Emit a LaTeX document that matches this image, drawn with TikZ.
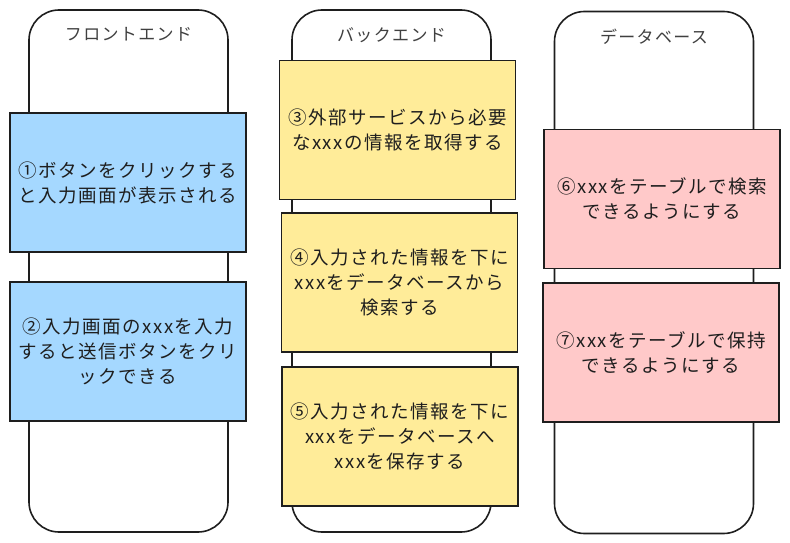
\documentclass[tikz,border=0pt]{standalone}
\usepackage{fontspec}
\newfontfamily\jpfont[LetterSpace=8]{Noto Sans CJK JP}
\usetikzlibrary{positioning}
\definecolor{inkdark}{HTML}{1E1E1E}
\definecolor{frontblue}{HTML}{A5D8FF}
\definecolor{backyellow}{HTML}{FFEC99}
\definecolor{dbpink}{HTML}{FFC9C9}
\tikzset{
  lane/.style={draw=inkdark,line width=1.6pt,rounded corners=30pt,fill=white,
    minimum width=199pt,minimum height=522pt,inner sep=0pt},
  lanetitle/.style={font=\jpfont\fontsize{17}{20}\selectfont,text=black!75,inner sep=0pt},
  taskbox/.style={draw=inkdark,line width=1.2pt,minimum width=236pt,minimum height=139pt,
    align=center,text=inkdark,font=\jpfont\fontsize{18.5}{25}\selectfont,inner sep=0pt},
  frontbox/.style={taskbox,fill=frontblue},
  backbox/.style={taskbox,fill=backyellow},
  dbbox/.style={taskbox,fill=dbpink}
}
\begin{document}
\begin{tikzpicture}[x=1pt,y=-1pt]
\useasboundingbox (0,0) rectangle (790,543);
% lanes
\node[lane] (front) at (128.5,271) {};
\node[lane] (back) at (391.5,271) {};
\node[lane] (db) at (654,272.5) {};
\node[lanetitle,below=18pt of front.north] (fronttitle) {フロントエンド};
\node[lanetitle,below=18pt of back.north] (backtitle) {バックエンド};
\node[lanetitle,below=18pt of db.north] (dbtitle) {データベース};
% tasks
\node[frontbox] (step1) at (128,182.5) {①ボタンをクリックする\\と入力画面が表示される};
\node[frontbox] (step2) at (128,351.5) {②入力画面のxxxを入力\\すると送信ボタンをクリ\\ックできる};
\node[backbox] (step3) at (397.5,130) {③外部サービスから必要\\なxxxの情報を取得する};
\node[backbox] (step4) at (399.5,282.5) {④入力された情報を下に\\xxxをデータベースから\\検索する};
\node[backbox] (step5) at (400,436.5) {⑤入力された情報を下に\\xxxをデータベースへ\\xxxを保存する};
\node[dbbox] (step6) at (662,199) {⑥xxxをテーブルで検索\\できるようにする};
\node[dbbox] (step7) at (661,352.5) {⑦xxxをテーブルで保持\\できるようにする};
\end{tikzpicture}
\end{document}
